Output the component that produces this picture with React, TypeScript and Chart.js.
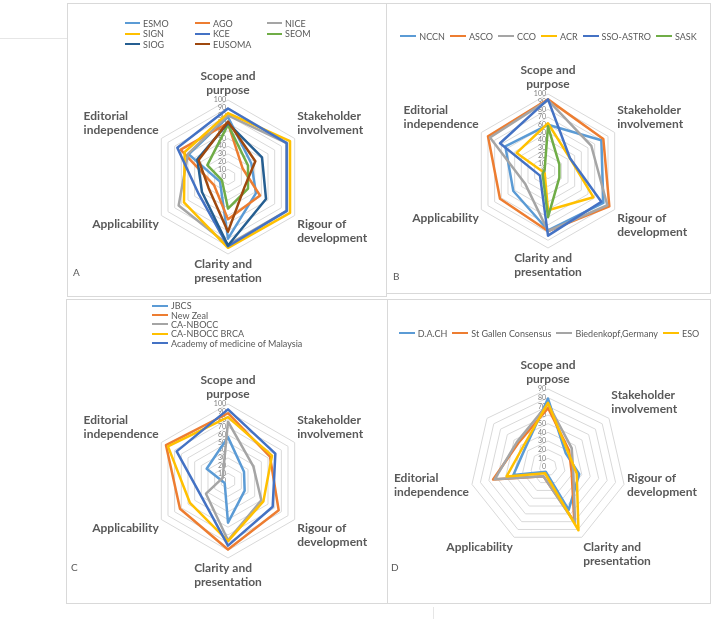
import React, { useEffect, useRef } from "react";
import { Chart, registerables } from "chart.js";

Chart.register(...registerables);

const FONT = "Lato, 'Noto Sans', sans-serif";
const TEXT = "#595959";
const GRID = "#D9D9D9";
const PALETTE = ["#5B9BD5", "#ED7D31", "#A5A5A5", "#FFC000", "#4472C4", "#70AD47", "#255E91", "#9E480E"];

// ---- categories (each split into its printed lines) ----
const axesHex = [
  ["Scope and", "purpose"],
  ["Stakeholder", "involvement"],
  ["Rigour of", "development"],
  ["Clarity and", "presentation"],
  ["Applicability"],
  ["Editorial", "independence"],
];
const axesD = [...axesHex, ""]; // seventh spoke has no label

const maxABC = 100;
const maxD = 90;
const tickStep = 10;

// ---- Panel A ----
const seriesA = ["ESMO", "AGO", "NICE", "SIGN", "KCE", "SEOM", "SIOG", "EUSOMA"];
const esmoA = [78, 35, 42, 80, 12, 59];
const agoA = [70, 22, 48, 55, 21, 71];
const niceA = [80, 88, 88, 88, 74, 60];
const signA = [83, 93, 93, 92, 66, 65];
const kceA = [89, 88, 88, 90, 44, 76];
const seomA = [68, 30, 30, 41, 9, 31];
const siogA = [70, 51, 57, 89, 39, 46];
const eusomaA = [72, 41, 25, 71, 29, 44];
const valuesA = [esmoA, agoA, niceA, signA, kceA, seomA, siogA, eusomaA];

// ---- Panel B ----
const seriesB = ["NCCN", "ASCO", "CCO", "ACR", "SSO-ASTRO", "SASK"];
const nccnB = [60, 80, 83, 77, 52, 64];
const ascoB = [93, 83, 92, 78, 72, 90];
const ccoB = [92, 65, 89, 78, 34, 87];
const acrB = [62, 33, 68, 51, 5, 47];
const ssoB = [93, 33, 80, 84, 12, 72];
const saskB = [58, 17, 17, 60, 8, 5];
const valuesB = [nccnB, ascoB, ccoB, acrB, ssoB, saskB];

// ---- Panel C ----
const seriesC = ["JBCS", "New Zeal", "CA-NBOCC", "CA-NBOCC BRCA", "Academy of medicine of Malaysia"];
const jbcsC = [57, 24, 25, 54, 5, 32];
const newZealC = [88, 63, 76, 89, 72, 93];
const caNboccC = [77, 38, 50, 77, 33, 8];
const caNboccBrcaC = [83, 66, 53, 78, 57, 90];
const academyC = [93, 71, 67, 84, 40, 77];
const valuesC = [jbcsC, newZealC, caNboccC, caNboccBrcaC, academyC];

// ---- Panel D ----
const seriesD = ["D.A.CH", "St Gallen Consensus", "Biedenkopf,Germany", "ESO"];
const dachD = [79, 26, 37, 55, 6, 41, 34];
const stGallenD = [68, 31, 28, 70, 12, 65, 44];
const biedenkopfD = [73, 35, 30, 72, 12, 63, 46];
const esoD = [74, 29, 34, 81, 8, 49, 37];
const valuesD = [dachD, stGallenD, biedenkopfD, esoD];

// Excel-like tick labels (left of the axis) and point labels
const excelText = {
  id: "excelText",
  beforeDatasetsDraw(chart: any) {
    const s = chart.scales.r;
    const ctx = chart.ctx;
    ctx.save();
    ctx.font = `7px ${FONT}`;
    ctx.fillStyle = "#7F7F7F";
    ctx.textAlign = "right";
    ctx.textBaseline = "middle";
    s.ticks.forEach((t: any) => {
      ctx.fillText(String(t.value), s.xCenter - 2, s.yCenter - s.getDistanceFromCenterForValue(t.value));
    });
    ctx.restore();
  },
  afterDatasetsDraw(chart: any) {
    const s = chart.scales.r;
    const ctx = chart.ctx;
    const labels = chart.data.labels as any[];
    const n = labels.length;
    const lh = 14;
    const pad = 3;
    ctx.save();
    ctx.font = `bold 12px ${FONT}`;
    ctx.fillStyle = TEXT;
    ctx.textBaseline = "middle";
    ctx.textAlign = "left";
    labels.forEach((lab, i) => {
      const lines: string[] = Array.isArray(lab) ? lab : lab ? [lab] : [];
      if (!lines.length) return;
      const p = s.getPointPosition(i, s.drawingArea + pad);
      const a = (2 * Math.PI * i) / n;
      const sin = Math.sin(a);
      const cos = Math.cos(a);
      const widths = lines.map((l) => ctx.measureText(l).width);
      const w = Math.max(...widths);
      const h = lines.length * lh;
      const left = Math.abs(sin) < 0.05 ? p.x - w / 2 : sin > 0 ? p.x : p.x - w;
      const top = Math.abs(cos) < 0.35 ? p.y - h / 2 : cos > 0 ? p.y - h : p.y;
      lines.forEach((l, k) => {
        const x = cos > 0.95 ? left + (w - widths[k]) / 2 : left;
        ctx.fillText(l, x, top + lh * k + lh / 2);
      });
    });
    ctx.restore();
  },
};

type Rect = { x: number; y: number; w: number; h: number };

function RadarPanel(props: {
  rect: Rect;
  labels: any[];
  names: string[];
  values: number[][];
  max: number;
  cx: number;
  cy: number;
  R: number;
}) {
  const ref = useRef<HTMLCanvasElement | null>(null);
  const { rect, labels, names, values, max, cx, cy, R } = props;
  useEffect(() => {
    if (!ref.current) return;
    const chart = new Chart(ref.current, {
      type: "radar",
      data: {
        labels,
        datasets: names.map((name, i) => ({
          label: name,
          data: values[i],
          borderColor: PALETTE[i],
          backgroundColor: "rgba(0,0,0,0)",
          borderWidth: 2.5,
          borderJoinStyle: "round",
          pointRadius: 0,
          pointHoverRadius: 0,
          fill: false,
          order: -i,
          clip: false,
        })),
      },
      options: {
        responsive: false,
        animation: false,
        events: [],
        plugins: { legend: { display: false }, tooltip: { enabled: false } },
        scales: {
          r: {
            min: 0,
            max,
            ticks: { display: false, stepSize: tickStep },
            grid: { color: GRID, lineWidth: 1 },
            angleLines: { display: false },
            pointLabels: { display: false },
            afterFit: (s: any) => {
              s.xCenter = cx - rect.x;
              s.yCenter = cy - rect.y;
              s.drawingArea = R;
            },
          },
        },
      } as any,
      plugins: [excelText],
    });
    return () => chart.destroy();
  }, []);
  return (
    <canvas
      ref={ref}
      width={rect.w}
      height={rect.h}
      style={{ position: "absolute", left: rect.x, top: rect.y, width: rect.w, height: rect.h }}
    />
  );
}

const legText: React.CSSProperties = { fontFamily: FONT, fontSize: 9, color: TEXT, whiteSpace: "nowrap", lineHeight: 1 };

function Swatch({ color, w = 16 }: { color: string; w?: number }) {
  return <span style={{ display: "inline-block", width: w, height: 2, background: color, marginRight: 3, flex: "none" }} />;
}

function Box({ x, y, w, h }: Rect) {
  return (
    <div
      style={{ position: "absolute", left: x, top: y, width: w, height: h, border: `1px solid ${GRID}`, boxSizing: "border-box" }}
    />
  );
}

function Letter({ t, x, y }: { t: string; x: number; y: number }) {
  return <div style={{ position: "absolute", left: x, top: y, fontFamily: FONT, fontSize: 10, color: TEXT, lineHeight: 1 }}>{t}</div>;
}

export default function App() {
  const rA = { x: 67, y: 3, w: 320, h: 294 };
  const rB = { x: 386, y: 3, w: 325, h: 291 };
  const rC = { x: 66, y: 299, w: 322, h: 305 };
  const rD = { x: 387, y: 299, w: 324, h: 305 };
  return (
    <div style={{ position: "fixed", left: 0, top: 0, width: 712, height: 619, background: "#fff", overflow: "hidden" }}>
      <div style={{ position: "absolute", left: 0, top: 38, width: 67, height: 1, background: "#E6E6E6" }} />
      <div style={{ position: "absolute", left: 433, top: 607, width: 1, height: 12, background: "#E6E6E6" }} />
      <Box {...rA} />
      <Box {...rB} />
      <Box {...rC} />
      <Box {...rD} />

      <RadarPanel rect={rA} labels={axesHex} names={seriesA} values={valuesA} max={maxABC} cx={228} cy={177} R={77} />
      <RadarPanel rect={rB} labels={axesHex} names={seriesB} values={valuesB} max={maxABC} cx={548} cy={171} R={77} />
      <RadarPanel rect={rC} labels={axesHex} names={seriesC} values={valuesC} max={maxABC} cx={228} cy={481} R={77} />
      <RadarPanel rect={rD} labels={axesD} names={seriesD} values={valuesD} max={maxD} cx={548} cy={467} R={78} />

      {/* Legend A: three columns */}
      <div
        style={{ position: "absolute", left: 125, top: 18, display: "grid", gridTemplateColumns: "70px 72px 60px", gridAutoRows: "10.5px" }}
      >
        {seriesA.map((n, i) => (
          <div key={n} style={{ display: "flex", alignItems: "center", ...legText }}>
            <Swatch color={PALETTE[i]} w={15} />
            {n}
          </div>
        ))}
      </div>

      {/* Legend B: one row */}
      <div style={{ position: "absolute", left: 386, top: 31, width: 325, height: 10, display: "flex", justifyContent: "center", alignItems: "center", gap: 5 }}>
        {seriesB.map((n, i) => (
          <div key={n} style={{ display: "flex", alignItems: "center", ...legText }}>
            <Swatch color={PALETTE[i]} />
            {n}
          </div>
        ))}
      </div>

      {/* Legend C: one column */}
      <div style={{ position: "absolute", left: 152, top: 301, display: "grid", gridAutoRows: "9.4px" }}>
        {seriesC.map((n, i) => (
          <div key={n} style={{ display: "flex", alignItems: "center", ...legText }}>
            <Swatch color={PALETTE[i]} />
            {n}
          </div>
        ))}
      </div>

      {/* Legend D: one row */}
      <div style={{ position: "absolute", left: 387, top: 328, width: 324, height: 10, display: "flex", justifyContent: "center", alignItems: "center", gap: 5 }}>
        {seriesD.map((n, i) => (
          <div key={n} style={{ display: "flex", alignItems: "center", ...legText }}>
            <Swatch color={PALETTE[i]} />
            {n}
          </div>
        ))}
      </div>

      <Letter t="A" x={73} y={267} />
      <Letter t="B" x={393} y={271} />
      <Letter t="C" x={71} y={562} />
      <Letter t="D" x={391} y={562} />
    </div>
  );
}
